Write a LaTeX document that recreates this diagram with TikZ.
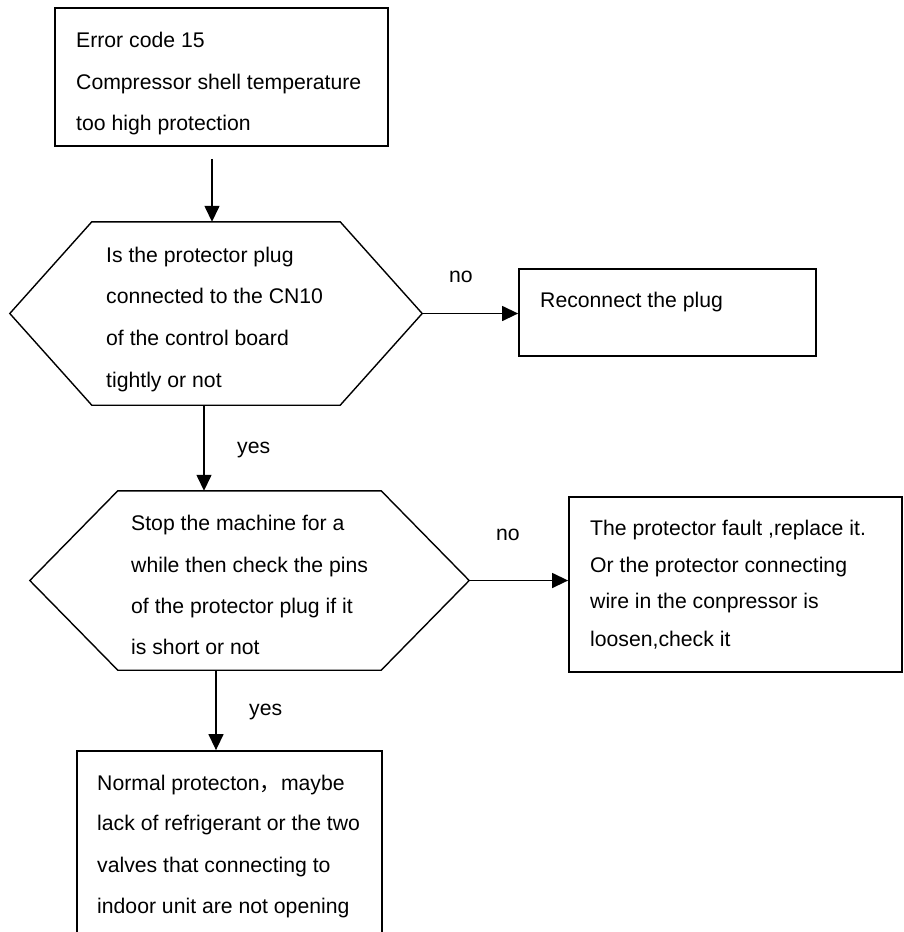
\documentclass[tikz,border=0pt]{standalone}
\usepackage{fontspec}
\setmainfont{Liberation Sans}
\newfontfamily\cjkfont{Noto Sans CJK SC}
\usetikzlibrary{arrows.meta,calc}
\begin{document}
\begin{tikzpicture}[x=1pt,y=-1pt,
  box/.style={draw, line width=1.8pt, rectangle, inner sep=0pt},
  area/.style={rectangle, inner sep=0pt},
  hexline/.style={line width=1.4pt, line join=miter},
  arr/.style={line width=1.4pt, -{Triangle[length=16pt,width=15pt]}},
  txt/.style={anchor=base west, inner sep=0pt, font=\fontsize{21.2}{25}\selectfont},
]
\useasboundingbox (0,0) rectangle (903,932);
\fill[white] (0,0) rectangle (903,932);
\clip (0,0) rectangle (903,932);

% boxes
\node[box, minimum width=333, minimum height=138] (b1) at (221.5,77) {};
\node[box, minimum width=297, minimum height=87] (b2) at (667.5,312.5) {};
\node[box, minimum width=333, minimum height=175] (b3) at (735.5,584.5) {};
\node[box, minimum width=305, minimum height=209] (b4) at (229.5,855.5) {};

% hexagon areas
\node[area, minimum width=412, minimum height=183] (q1) at (216,313.5) {};
\node[area, minimum width=439, minimum height=179] (q2) at (249.5,580.5) {};

\draw[hexline] (q1.west) -- ($(q1.north west)+(82,0)$) -- ($(q1.north east)+(-82,0)$)
  -- (q1.east) -- ($(q1.south east)+(-82,0)$) -- ($(q1.south west)+(82,0)$) -- cycle;
\draw[hexline] (q2.west) -- ($(q2.north west)+(88,0)$) -- ($(q2.north east)+(-88,0)$)
  -- (q2.east) -- ($(q2.south east)+(-88,0)$) -- ($(q2.south west)+(88,0)$) -- cycle;

% texts
\node[txt] (t1a) at (76,47) {Error code 15};
\node[txt] (t1b) at (76,89) {Compressor shell temperature};
\node[txt] (t1c) at (76,130) {too high protection};

\node[txt] (t2a) at (106,262) {Is the protector plug};
\node[txt] (t2b) at (106,303) {connected to the CN10};
\node[txt] (t2c) at (106,345) {of the control board};
\node[txt] (t2d) at (106,387) {tightly or not};

\node[txt] (t3) at (540,307) {Reconnect the plug};

\node[txt] (t4a) at (131,530) {Stop the machine for a};
\node[txt] (t4b) at (131,572) {while then check the pins};
\node[txt] (t4c) at (131,613) {of the protector plug if it};
\node[txt] (t4d) at (131,654) {is short or not};

\node[txt] (t5a) at (590,535) {The protector fault ,replace it.};
\node[txt] (t5b) at (590,572) {Or the protector connecting};
\node[txt] (t5c) at (590,608) {wire in the conpressor is};
\node[txt] (t5d) at (590,646) {loosen,check it};

\node[txt] (t6a) at (97,790) {Normal protecton{\cjkfont ，}maybe};
\node[txt] (t6b) at (97,830) {lack of refrigerant or the two};
\node[txt] (t6c) at (97,872) {valves that connecting to};
\node[txt] (t6d) at (97,913) {indoor unit are not opening};

% labels
\node[txt] (no1) at (449,282) {no};
\node[txt] (yes1) at (237,453) {yes};
\node[txt] (no2) at (496,540) {no};
\node[txt] (yes2) at (249,715) {yes};

% connectors
\draw[arr] ($(b1.south)+(-9.5,12)$) -- ($(q1.north)+(-4,0)$);
\draw[arr] ($(q1.south)+(-12,0)$) -- ($(q2.north)+(-45.5,0)$);
\draw[arr] (q1.east) -- (q1.east -| b2.west);
\draw[arr] (q2.east) -- (q2.east -| b3.west);
\draw[arr] ($(q2.south)+(-33.5,0)$) -- ($(b4.north)+(-13.5,0)$);
\end{tikzpicture}
\end{document}
